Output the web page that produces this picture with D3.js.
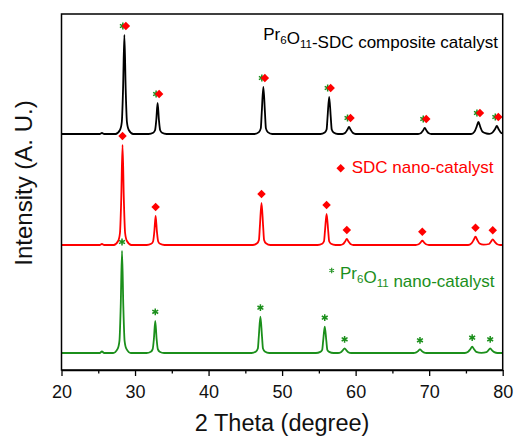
<!DOCTYPE html>
<html>
<head>
<meta charset="utf-8">
<script src="https://cdn.jsdelivr.net/npm/d3@7"></script>
<style>
  html, body { margin: 0; padding: 0; background: #fff; }
  svg { display: block; font-family: "Liberation Sans", Arial, Helvetica, sans-serif; }
</style>
</head>
<body>
<svg id="chart" width="517" height="436"></svg>
<script>
// X-ray diffraction patterns, intensity in arbitrary units above each trace's baseline
const xTicks = [20, 30, 40, 50, 60, 70, 80];
const xMinorTicks = [25, 35, 45, 55, 65, 75];

// Pr6O11 nano-catalyst pattern: [2θ, intensity]
const pr6o11Pattern = [
  [20, 0], [25.2, 0], [25.5, 15], [25.8, 0],
  [27.03, 0], [27.63, 41], [27.88, 122], [28.05, 459], [28.23, 1020], [28.41, 459], [28.58, 122], [28.83, 41], [29.43, 0],
  [31.55, 0], [32.15, 13], [32.4, 39], [32.57, 145], [32.75, 322], [32.93, 145], [33.1, 39], [33.35, 13], [33.95, 0],
  [45.85, 0], [46.45, 15], [46.7, 44], [46.83, 163], [47.05, 363], [47.27, 163], [47.4, 44], [47.65, 15], [48.25, 0],
  [54.6, 0], [55.2, 11], [55.45, 32], [55.58, 118], [55.8, 263], [56.02, 118], [56.15, 32], [56.4, 11], [57.0, 0],
  [57.6, 0], [58.0, 8], [58.25, 26], [58.5, 47], [58.75, 26], [59.0, 8], [59.4, 0],
  [67.85, 0], [68.25, 6], [68.5, 20], [68.75, 37], [69.0, 20], [69.25, 6], [69.65, 0],
  [74.85, 0], [75.3, 12], [75.6, 38], [75.85, 63], [76.1, 38], [76.4, 12], [77.1, 2],
  [77.8, 9], [78.05, 27], [78.3, 47], [78.55, 27], [78.85, 9], [79.3, 0], [80, 0]
];
// SDC nano-catalyst pattern
const sdcPattern = [
  [20, 0], [25.2, 0], [25.5, 10], [25.8, 0],
  [27.1, 0], [27.7, 40], [27.95, 120], [28.12, 450], [28.3, 1000], [28.48, 450], [28.65, 120], [28.9, 40], [29.5, 0],
  [31.6, 0], [32.2, 12], [32.45, 35], [32.62, 131], [32.8, 290], [32.98, 131], [33.15, 35], [33.4, 12], [34.0, 0],
  [46.0, 0], [46.6, 17], [46.85, 50], [46.98, 189], [47.2, 420], [47.42, 189], [47.55, 50], [47.8, 17], [48.4, 0],
  [54.85, 0], [55.45, 12], [55.7, 37], [55.83, 140], [56.05, 310], [56.27, 140], [56.4, 37], [56.65, 12], [57.25, 0],
  [57.9, 0], [58.3, 10], [58.55, 33], [58.8, 60], [59.05, 33], [59.3, 10], [59.7, 0],
  [68.17, 0], [68.57, 7], [68.82, 24], [69.07, 43], [69.32, 24], [69.57, 7], [69.97, 0],
  [75.3, 0], [75.75, 16], [76.05, 50], [76.3, 83], [76.55, 50], [76.85, 16], [77.4, 3],
  [78.15, 10], [78.4, 33], [78.65, 57], [78.9, 33], [79.2, 10], [79.65, 0], [80, 0]
];
// Pr6O11-SDC composite catalyst pattern
const compositePattern = [
  [20, 0], [25.2, 0], [25.5, 10], [25.8, 0],
  [27.35, 0], [27.95, 40], [28.2, 119], [28.37, 446], [28.55, 990], [28.73, 446], [28.9, 119], [29.15, 40], [29.75, 0],
  [31.87, 0], [32.47, 12], [32.72, 37], [32.89, 140], [33.07, 310], [33.25, 140], [33.42, 37], [33.67, 12], [34.27, 0],
  [46.25, 0], [46.85, 19], [47.1, 56], [47.23, 212], [47.45, 470], [47.67, 212], [47.8, 56], [48.05, 19], [48.65, 0],
  [55.2, 0], [55.8, 15], [56.05, 44], [56.18, 167], [56.4, 370], [56.62, 167], [56.75, 44], [57.0, 15], [57.6, 0],
  [58.2, 0], [58.6, 12], [58.85, 39], [59.1, 70], [59.35, 39], [59.6, 12], [60.0, 0],
  [68.5, 0], [68.9, 10], [69.15, 33], [69.4, 60], [69.65, 33], [69.9, 10], [70.3, 0],
  [75.7, 0], [76.15, 22], [76.45, 72], [76.7, 120], [76.95, 72], [77.25, 22], [77.8, 5],
  [78.2, 2], [78.6, 14], [78.95, 48], [79.2, 80], [79.45, 48], [79.75, 14], [80, 5]
];

// Indexed reflections (2θ) and their peak intensities per pattern
const pr6o11Peaks = [28.23, 32.75, 47.05, 55.8, 58.5, 68.75, 75.85, 78.3];
const pr6o11PeakHeights = [1020, 322, 363, 263, 47, 37, 63, 47];
const sdcPeaks = [28.3, 32.8, 47.2, 56.05, 58.8, 69.07, 76.3, 78.65];
const sdcPeakHeights = [1000, 290, 420, 310, 60, 43, 83, 57];
const compositePeaks = [28.55, 33.07, 47.45, 56.4, 59.1, 69.4, 76.7, 79.2];
const compositePeakHeights = [990, 310, 470, 370, 70, 60, 120, 80];

// Vertical stacking offsets (same arbitrary units)
const offsets = { pr6o11: 170, sdc: 1250, composite: 2360 };

const colors = { composite: "#000000", sdc: "#ff0000", pr6o11: "#1b8f1b" };

const svg = d3.select("#chart");
const plotLeft = 61.5, plotRight = 502.7, plotTop = 14, plotBottom = 370;

const x = d3.scaleLinear().domain([20, 80]).range([plotLeft, plotRight]);
const y = d3.scaleLinear().domain([0, 3560]).range([plotBottom, plotTop]);

svg.append("defs").append("clipPath").attr("id", "plotClip")
  .append("rect").attr("x", plotLeft).attr("y", plotTop)
  .attr("width", plotRight - plotLeft).attr("height", plotBottom - plotTop);

const line = d3.line().curve(d3.curveMonotoneX);

function drawPattern(data, offset, color) {
  svg.append("path")
    .attr("clip-path", "url(#plotClip)")
    .attr("fill", "none")
    .attr("stroke", color)
    .attr("stroke-width", 1.8)
    .attr("stroke-linejoin", "round")
    .attr("d", line(data.map(d => [x(d[0]), y(d[1] + offset)])));
}

drawPattern(pr6o11Pattern, offsets.pr6o11, colors.pr6o11);
drawPattern(sdcPattern, offsets.sdc, colors.sdc);
drawPattern(compositePattern, offsets.composite, colors.composite);

// Phase markers
const gap = 9;
const diamond = d3.symbol().type(d3.symbolDiamond2).size(46);
const asterisk = d3.symbol().type(d3.symbolAsterisk).size(32);

function diamonds(peaks, heights, offset, dx, gapPx) {
  svg.append("g").selectAll("path").data(peaks).join("path")
    .attr("d", diamond)
    .attr("fill", colors.sdc)
    .attr("transform", (p, i) => `translate(${x(p) + dx},${y(heights[i] + offset) - gapPx})`);
}
function asterisks(peaks, heights, offset, dx, gapPx) {
  svg.append("g").selectAll("path").data(peaks).join("path")
    .attr("d", asterisk)
    .attr("fill", "none")
    .attr("stroke", colors.pr6o11)
    .attr("stroke-width", 1.5)
    .attr("transform", (p, i) => `translate(${x(p) + dx},${y(heights[i] + offset) - gapPx})`);
}

asterisks(pr6o11Peaks, pr6o11PeakHeights, offsets.pr6o11, 0, gap);
diamonds(sdcPeaks, sdcPeakHeights, offsets.sdc, 0, gap);
// Composite: both phases marked, overlapping
asterisks(compositePeaks, compositePeakHeights, offsets.composite, -1.5, gap);
diamonds(compositePeaks, compositePeakHeights, offsets.composite, 1.5, gap);

// Frame
svg.append("rect")
  .attr("x", plotLeft).attr("y", plotTop)
  .attr("width", plotRight - plotLeft).attr("height", plotBottom - plotTop)
  .attr("fill", "none").attr("stroke", "#000").attr("stroke-width", 1.5);

// Bottom axis: major and minor ticks
const axisMajor = svg.append("g").attr("transform", `translate(0,${plotBottom})`)
  .call(d3.axisBottom(x).tickValues(xTicks).tickFormat(d3.format("d")).tickSizeInner(6).tickSizeOuter(0).tickPadding(9));
axisMajor.select(".domain").attr("stroke-width", 1.5);
axisMajor.selectAll(".tick line").attr("stroke-width", 1.3);
axisMajor.selectAll(".tick text").attr("font-size", 18).attr("fill", "#111")
  .attr("font-family", "'Liberation Sans', Arial, sans-serif");

const axisMinor = svg.append("g").attr("transform", `translate(0,${plotBottom})`)
  .call(d3.axisBottom(x).tickValues(xMinorTicks).tickFormat("").tickSizeInner(3.5).tickSizeOuter(0));
axisMinor.select(".domain").remove();
axisMinor.selectAll(".tick line").attr("stroke-width", 1.3);

// Axis titles
svg.append("text")
  .attr("x", (plotLeft + plotRight) / 2).attr("y", 431)
  .attr("text-anchor", "middle").attr("font-size", 23.5).attr("fill", "#111")
  .text("2 Theta (degree)");

svg.append("text")
  .attr("transform", "translate(32,183) rotate(-90)")
  .attr("text-anchor", "middle").attr("font-size", 24).attr("fill", "#111")
  .text("Intensity (A. U.)");

// Series labels with subscripted formula
function formulaLabel(g, parts, size) {
  parts.forEach(p => {
    if (p.sub) {
      g.append("tspan").attr("font-size", size * 0.68).attr("dy", 4).text(p.t);
      g.append("tspan").attr("font-size", size).attr("dy", -4).text("");
    } else {
      g.append("tspan").text(p.t);
    }
  });
}

const compLabel = svg.append("text")
  .attr("x", 498).attr("y", 40).attr("text-anchor", "end")
  .attr("font-size", 17).attr("fill", colors.composite);
formulaLabel(compLabel, [{ t: "Pr" }, { t: "6", sub: true }, { t: "O" }, { t: "11", sub: true }, { t: "-SDC composite catalyst" }], 17);

svg.append("path").attr("d", diamond).attr("fill", colors.sdc)
  .attr("transform", "translate(340.7,168.3)");
svg.append("text")
  .attr("x", 351.7).attr("y", 172.8)
  .attr("font-size", 17).attr("fill", colors.sdc)
  .text("SDC nano-catalyst");

svg.append("path").attr("d", asterisk).attr("fill", "none")
  .attr("stroke", colors.pr6o11).attr("stroke-width", 1.4)
  .attr("transform", "translate(331.7,270.5) scale(0.8)");
const prLabel = svg.append("text")
  .attr("x", 340).attr("y", 278.5)
  .attr("font-size", 17).attr("fill", colors.pr6o11);
formulaLabel(prLabel, [{ t: "Pr" }, { t: "6", sub: true }, { t: "O" }, { t: "11", sub: true }, { t: " nano-catalyst" }], 17);
</script>
</body>
</html>
